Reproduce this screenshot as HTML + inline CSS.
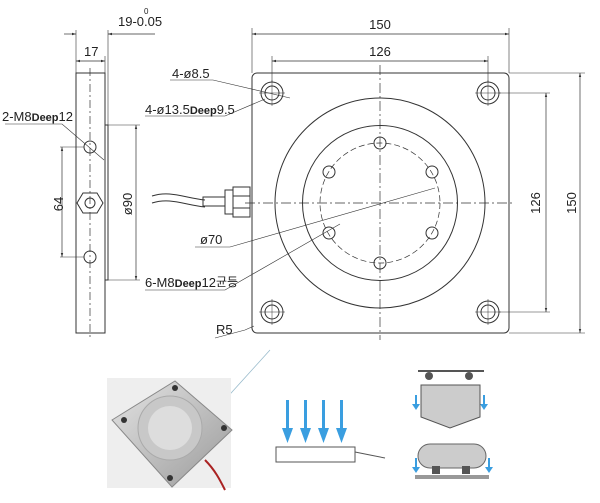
<!DOCTYPE html>
<html><head><style>body{margin:0;background:#fff;position:relative}svg{display:block}text{font-family:"Liberation Sans",sans-serif;fill:#222}.k{position:absolute;left:216px;top:274px;font:12px "Noto Sans CJK KR","NanumGothic",sans-serif;color:#222;line-height:16px;white-space:nowrap}</style></head><body>
<svg width="600" height="503" viewBox="0 0 600 503" xmlns="http://www.w3.org/2000/svg">
<defs>
<marker id="a" viewBox="0 0 10 10" refX="10" refY="5" markerWidth="6" markerHeight="6" orient="auto-start-reverse"><path d="M0,2L10,5L0,8z" fill="#333"/></marker>
<linearGradient id="m" x1="0" y1="0" x2="1" y2="1"><stop offset="0" stop-color="#e4e4e4"/><stop offset="1" stop-color="#9a9a9a"/></linearGradient>
</defs>
<g stroke="#333" fill="none" stroke-width="1">
<rect x="76" y="73" width="29" height="260"/>
<rect x="105" y="125" width="3" height="155"/>
<line x1="90" y1="68" x2="90" y2="338" stroke-dasharray="8,3,2,3" stroke-width=".7"/>
<circle cx="90" cy="147" r="6"/><circle cx="90" cy="257" r="6"/>
<polygon points="77,203 83,193 97,193 103,203 97,213 83,213"/><circle cx="90" cy="203" r="5"/>
<line x1="60" y1="147" x2="84" y2="147" stroke-width=".6"/><line x1="60" y1="257" x2="84" y2="257" stroke-width=".6"/>
<line x1="62" y1="147" x2="62" y2="257" stroke-width=".7" marker-start="url(#a)" marker-end="url(#a)"/>
<line x1="108" y1="125" x2="140" y2="125" stroke-width=".6"/><line x1="108" y1="280" x2="140" y2="280" stroke-width=".6"/>
<line x1="136" y1="125" x2="136" y2="280" stroke-width=".7" marker-start="url(#a)" marker-end="url(#a)"/>
<line x1="76" y1="56" x2="76" y2="73" stroke-width=".6"/><line x1="105" y1="56" x2="105" y2="73" stroke-width=".6"/>
<line x1="76" y1="61" x2="105" y2="61" stroke-width=".7" marker-start="url(#a)" marker-end="url(#a)"/>
<line x1="76" y1="30" x2="76" y2="56" stroke-width=".6"/><line x1="108" y1="30" x2="108" y2="125" stroke-width=".6"/>
<line x1="64" y1="34" x2="76" y2="34" stroke-width=".7" marker-end="url(#a)"/><line x1="155" y1="34" x2="108" y2="34" stroke-width=".7" marker-end="url(#a)"/>
<polyline points="5,124 62,124 104,160" stroke-width=".6"/>
<path d="M152,196 C170,190 185,198 205,200" stroke-width="1"/><path d="M152,203 C170,197 185,205 205,207" stroke-width="1"/>
<rect x="203" y="197" width="22" height="9"/><rect x="225" y="190" width="8" height="24"/><rect x="233" y="187" width="17" height="30"/><line x1="233" y1="196" x2="250" y2="196"/><line x1="233" y1="208" x2="250" y2="208"/>
<rect x="252" y="73" width="257" height="260" rx="5"/>
<line x1="380" y1="65" x2="380" y2="340" stroke-dasharray="10,3,2,3" stroke-width=".7"/>
<line x1="245" y1="203" x2="515" y2="203" stroke-dasharray="10,3,2,3" stroke-width=".7"/>
<circle cx="380" cy="203" r="105"/><circle cx="380" cy="203" r="77.5"/>
<circle cx="380" cy="203" r="60" stroke-dasharray="6,3" stroke-width=".7"/>
<circle cx="380" cy="143" r="6"/><circle cx="329" cy="172" r="6"/><circle cx="432" cy="172" r="6"/><circle cx="329" cy="233" r="6"/><circle cx="432" cy="233" r="6"/><circle cx="380" cy="263" r="6"/>
<g id="h"><circle cx="272" cy="93" r="11"/><circle cx="272" cy="93" r="7"/><line x1="259" y1="93" x2="285" y2="93" stroke-width=".5"/><line x1="272" y1="80" x2="272" y2="106" stroke-width=".5"/></g>
<use href="#h" x="216"/><use href="#h" y="219"/><use href="#h" x="216" y="219"/>
<line x1="252" y1="28" x2="252" y2="73" stroke-width=".6"/><line x1="509" y1="28" x2="509" y2="73" stroke-width=".6"/>
<line x1="252" y1="34" x2="509" y2="34" stroke-width=".7" marker-start="url(#a)" marker-end="url(#a)"/>
<line x1="272" y1="56" x2="272" y2="82" stroke-width=".6"/><line x1="488" y1="56" x2="488" y2="82" stroke-width=".6"/>
<line x1="272" y1="61" x2="488" y2="61" stroke-width=".7" marker-start="url(#a)" marker-end="url(#a)"/>
<line x1="499" y1="93" x2="550" y2="93" stroke-width=".6"/><line x1="499" y1="312" x2="550" y2="312" stroke-width=".6"/>
<line x1="546" y1="93" x2="546" y2="312" stroke-width=".7" marker-start="url(#a)" marker-end="url(#a)"/>
<line x1="509" y1="73" x2="585" y2="73" stroke-width=".6"/><line x1="509" y1="333" x2="585" y2="333" stroke-width=".6"/>
<line x1="580" y1="73" x2="580" y2="333" stroke-width=".7" marker-start="url(#a)" marker-end="url(#a)"/>
<polyline points="170,80 213,80 290,98" stroke-width=".6"/>
<polyline points="145,116 225,116 265,99" stroke-width=".6"/>
<polyline points="195,247 230,247 435,188" stroke-width=".6"/>
<polyline points="145,290 225,290 340,224" stroke-width=".6"/>
<polyline points="215,338 245,330 254,326" stroke-width=".6"/>
<line x1="270" y1="350" x2="213" y2="413" stroke="#9bc" stroke-width=".8"/>
</g>
<g font-size="13">
<text x="118" y="26">19-0.05</text><text x="144" y="14" font-size="8">0</text>
<text x="84" y="56">17</text>
<text x="2" y="121">2-M8<tspan font-size="11" font-weight="bold">Deep</tspan>12</text>
<text x="57" y="210" transform="rotate(-90 57 204)" text-anchor="middle">64</text>
<text x="132" y="204" transform="rotate(-90 132 204)" text-anchor="middle">ø90</text>
<text x="172" y="78">4-ø8.5</text>
<text x="145" y="114">4-ø13.5<tspan font-size="11" font-weight="bold">Deep</tspan>9.5</text>
<text x="200" y="244">ø70</text>
<text x="145" y="287">6-M8<tspan font-size="11" font-weight="bold">Deep</tspan>12</text>
<text x="216" y="334">R5</text>
<text x="380" y="29" text-anchor="middle">150</text>
<text x="380" y="56" text-anchor="middle">126</text>
<text x="540" y="203" transform="rotate(-90 540 203)" text-anchor="middle">126</text>
<text x="576" y="203" transform="rotate(-90 576 203)" text-anchor="middle">150</text>
</g>
<rect x="107" y="378" width="124" height="110" fill="#eee"/>
<polygon points="112,420 175,381 232,430 172,487" fill="url(#m)" stroke="#888"/>
<circle cx="170" cy="428" r="32" fill="#c8c8c8" stroke="#aaa"/>
<circle cx="170" cy="428" r="22" fill="#ddd"/>
<g fill="#333"><circle cx="124" cy="420" r="3"/><circle cx="175" cy="388" r="3"/><circle cx="224" cy="428" r="3"/><circle cx="170" cy="478" r="3"/></g>
<path d="M205,460 C215,470 220,480 225,490" stroke="#a22" stroke-width="2" fill="none"/>
<rect x="276" y="447" width="79" height="15" fill="#fff" stroke="#555"/>
<path d="M355,452 L370,455 385,458" stroke="#555" fill="none"/>
<g fill="#3a9ee0">
<rect x="286" y="400" width="3" height="30"/><polygon points="282,428 293,428 287.5,443"/>
<rect x="304" y="400" width="3" height="30"/><polygon points="300,428 311,428 305.5,443"/>
<rect x="322" y="400" width="3" height="30"/><polygon points="318,428 329,428 323.5,443"/>
<rect x="340" y="400" width="3" height="30"/><polygon points="336,428 347,428 341.5,443"/>
<rect x="415" y="395" width="2" height="10"/><polygon points="412,404 420,404 416,410"/>
<rect x="483" y="395" width="2" height="10"/><polygon points="480,404 488,404 484,410"/>
<rect x="415" y="458" width="2" height="10"/><polygon points="412,467 420,467 416,473"/>
<rect x="488" y="458" width="2" height="10"/><polygon points="485,467 493,467 489,473"/>
</g>
<line x1="418" y1="371" x2="484" y2="371" stroke="#555" stroke-width="2"/>
<circle cx="429" cy="376" r="4" fill="#555"/><circle cx="469" cy="376" r="4" fill="#555"/>
<polygon points="421,385 480,385 480,417 450,428 421,417" fill="#ccc" stroke="#555"/>
<rect x="418" y="444" width="68" height="24" rx="12" fill="#ccc" stroke="#666"/>
<rect x="432" y="466" width="8" height="8" fill="#555"/><rect x="462" y="466" width="8" height="8" fill="#555"/>
<rect x="415" y="475" width="74" height="4" fill="#999"/>
</svg>
<div class="k">균등</div>
</body></html>
